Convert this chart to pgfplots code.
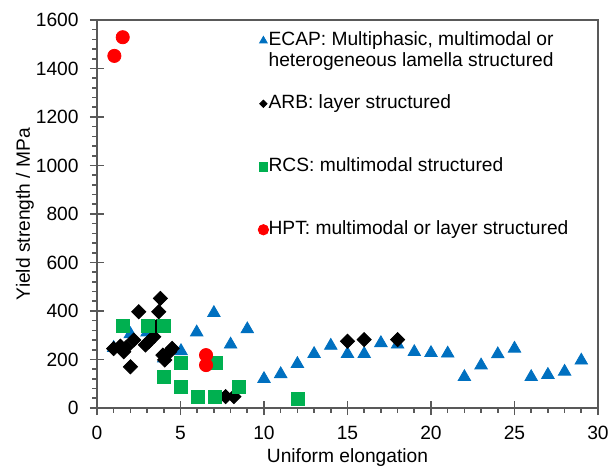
\documentclass[border=0pt]{standalone}
\usepackage{fontspec}
\setmainfont{Liberation Sans}
\usepackage{pgfplots}
\pgfplotsset{compat=1.18}

\definecolor{ecap}{RGB}{0,112,192}
\definecolor{rcs}{RGB}{0,176,80}
\definecolor{hpt}{RGB}{255,0,0}
\definecolor{axgray}{RGB}{89,89,89}

\begin{document}
\fontsize{9.6}{11.5}\selectfont
\begin{tikzpicture}
\begin{axis}[
    name=ax,
    scale only axis,
    width=250.5pt, height=194pt,
    xmin=0, xmax=30, ymin=0, ymax=1600,
    xtick={0,5,...,30}, ytick={0,200,...,1600},
    minor x tick num=4, minor y tick num=4,
    xtick pos=bottom, ytick pos=left,
    tick align=center,
    major tick length=7pt, minor tick length=2.3pt,
    every minor x tick/.append style={yshift=-1.15pt},
    every minor y tick/.append style={xshift=-1.15pt},
    axis line style={axgray, line width=0.8pt},
    tick style={axgray, line width=0.8pt},
    /pgf/number format/assume math mode=true,
    /pgf/number format/set thousands separator={},
    yticklabel style={xshift=-2.3pt},
    xticklabel style={yshift=-2pt},
    xlabel={Uniform elongation},
    ylabel={Yield strength / MPa},
    every axis x label/.style={at={([yshift=-25pt]rel axis cs:0.5,0)}, anchor=center},
    every axis y label/.style={at={([xshift=-36pt]rel axis cs:0,0.5)}, rotate=90, anchor=center},
    clip=false,
    legend image code/.code={\draw[mark repeat=2,mark phase=2,#1] plot coordinates {(0pt,0pt)(2.5pt,0pt)(3.6pt,0pt)};},
    legend style={at={(0.309,0.9815)}, anchor=north west, draw=none, fill=none,
        row sep=1.3pt, column sep=0pt,
        nodes={inner sep=0pt, text height=7pt, text depth=2.2pt}},
    legend cell align=left,
]
% ECAP
\addplot[only marks, mark=triangle*, mark size=3.6pt, color=ecap, forget plot] coordinates {
(1.0,248) (2.0,305) (3.0,312) (4.0,205) (5.03,235) (5.97,312) (7.0,392) (8.0,262) (9.0,325)
(10,120) (11,140) (12,182) (13,223) (14,257) (15,223) (16,223) (17,268) (18,262) (19,231)
(20,227) (21,225) (22,128) (23,176) (24,222) (25,245) (26,128) (27,137) (28,150) (29,196)
};
% ARB
\addplot[only marks, mark=square*, mark options={rotate=45}, mark size=2.5pt, color=black, forget plot] coordinates {
(1.0,245) (1.4,255) (1.6,232) (1.75,250) (2.0,170) (2.2,280) (2.5,397) (2.9,260) (3.1,273)
(3.4,294) (3.55,335) (3.7,397) (3.8,452) (3.95,218) (4.05,198) (4.35,232) (4.5,246)
(7.7,47) (8.2,47) (15,275) (16,282) (18,282)
};
% RCS
\addplot[only marks, mark=square*, mark size=3.2pt, color=rcs, forget plot] coordinates {
(1.55,339) (3.07,339) (4.03,339) (5.03,187) (7.13,187) (4.03,129) (5.03,88) (6.03,47)
(7.07,47) (8.52,88) (12.05,37)
};
% HPT
\addplot[only marks, mark=*, mark size=3.3pt, color=hpt, forget plot] coordinates {
(1.04,1452) (1.54,1529) (6.53,218) (6.53,177)
};
\addlegendimage{only marks, mark=triangle*, mark size=2.2pt, color=ecap}
\addlegendentry{ECAP: Multiphasic, multimodal or}
\addlegendimage{empty legend}
\addlegendentry{heterogeneous lamella structured}
\addlegendimage{empty legend}
\addlegendentry{}
\addlegendimage{only marks, mark=square*, mark options={rotate=45}, mark size=1.3pt, color=black}
\addlegendentry{ARB: layer structured}
\addlegendimage{empty legend}
\addlegendentry{}
\addlegendimage{empty legend}
\addlegendentry{}
\addlegendimage{only marks, mark=square*, mark size=2.2pt, color=rcs}
\addlegendentry{RCS: multimodal structured}
\addlegendimage{empty legend}
\addlegendentry{}
\addlegendimage{empty legend}
\addlegendentry{}
\addlegendimage{only marks, mark=*, mark size=2.6pt, color=hpt}
\addlegendentry{HPT: multimodal or layer structured}
\end{axis}
\path ([shift={(-48.5pt,-29.5pt)}]ax.south west) rectangle ([shift={(9pt,10pt)}]ax.north east);
\end{tikzpicture}
\end{document}
